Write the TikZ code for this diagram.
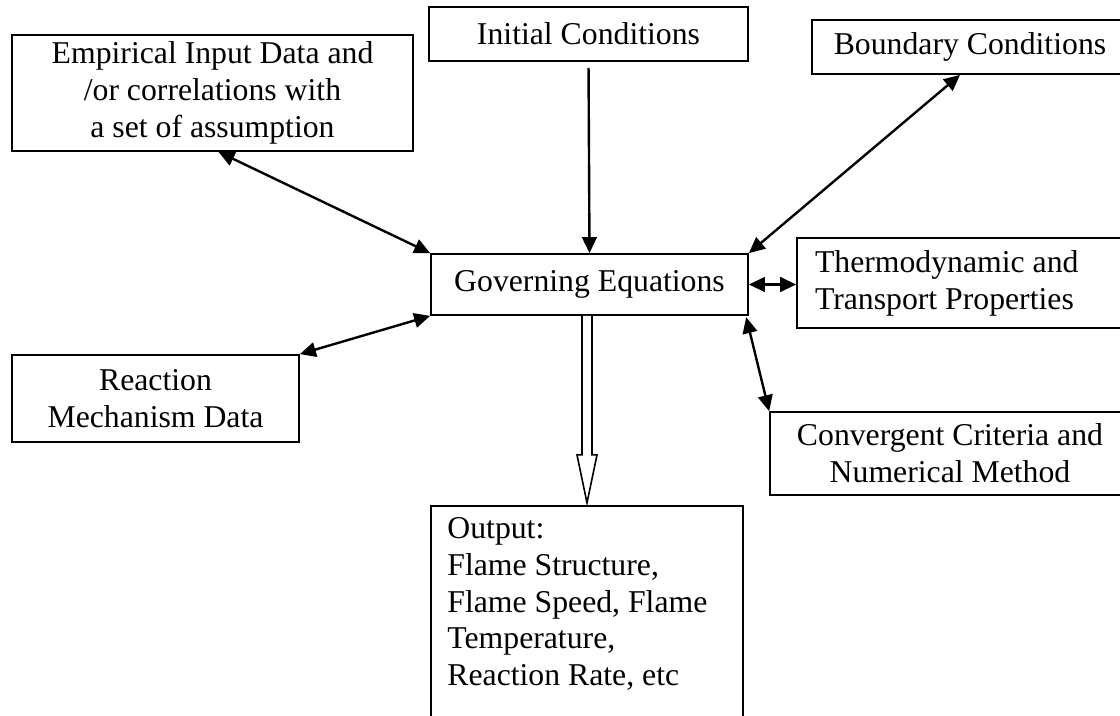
\documentclass[tikz,border=0pt]{standalone}
\usepackage{fontspec}
\setmainfont{Liberation Serif}
\usetikzlibrary{arrows.meta,calc}
\begin{document}
\begin{tikzpicture}[x=0.75pt,y=-0.75pt,
  txt/.style={font=\fontsize{23.8}{27.6}\selectfont},
  box/.style={draw, line width=1.3pt, inner sep=0pt, align=center, txt},
  onearrow/.style={line width=1.8pt, -{Triangle[length=12pt,width=11pt]}},
  twoarrow/.style={line width=1.8pt, {Triangle[length=12pt,width=11pt]}-{Triangle[length=12pt,width=11pt]}},
  hollow/.style={draw, fill=white, line width=1.2pt, line join=miter}]
\useasboundingbox (0,0) rectangle (1120,715);
\clip (0,0) rectangle (1120,715);
\fill[white] (0,0) rectangle (1120,715);

\node[box, minimum width=300.75pt, minimum height=87pt] (emp) at (212.5,93)
  {\rule{0pt}{4pt}Empirical Input Data and\\/or correlations with\\a set of assumption};
\node[box, minimum width=239.25pt, minimum height=40.5pt] (init) at (588.5,34) {Initial Conditions};
\node[box, minimum width=237.75pt, minimum height=45.75pt] (gov) at (589.5,284.5) {Governing Equations};
\node[box, minimum width=237pt, minimum height=40.5pt] (bound) at (970,47) {Boundary Conditions};
\node[box, minimum width=249.75pt, minimum height=67.5pt, text width=222.75pt, align=flush left] (thermo) at (963.5,283)
  {Thermodynamic and\\Transport Properties};
\node[box, minimum width=215.25pt, minimum height=65.25pt] (react) at (155.5,398.5) {Reaction\\Mechanism Data};
\node[box, minimum width=270pt, minimum height=62.25pt] (conv) at (950,453.5) {Convergent Criteria and\\Numerical Method};
\node[box, minimum width=234pt, minimum height=205.5pt] (out) at (587,643) {};
\node[txt, anchor=north west, align=flush left, inner sep=0pt] (outtext) at ($(out.north west)+(17,12)$)
  {Output:\\Flame Structure,\\Flame Speed, Flame\\Temperature,\\Reaction Rate, etc};

\draw[onearrow, shorten <=4.5pt] (init.south) -- (gov.north);
\draw[twoarrow] ([xshift=4.5pt]emp.south) -- (gov.north west);
\draw[twoarrow] (gov.north east) -- ([xshift=-7.5pt]bound.south);
\draw[twoarrow] (gov.east) -- (gov.east -| thermo.west);
\draw[twoarrow] (gov.south west) -- (react.north east);
\draw[twoarrow] ([xshift=-2pt,yshift=-1pt]gov.south east) -- (conv.north west);

\coordinate (hs) at ($(gov.south)+(-2.5,0)$);
\draw[hollow] ($(hs)+(-5,0)$) -- ($(hs)+(-5,139)$) -- ($(hs)+(-10,139)$) -- ($(hs)+(0,187)$)
  -- ($(hs)+(10,139)$) -- ($(hs)+(5,139)$) -- ($(hs)+(5,0)$);
\end{tikzpicture}
\end{document}
